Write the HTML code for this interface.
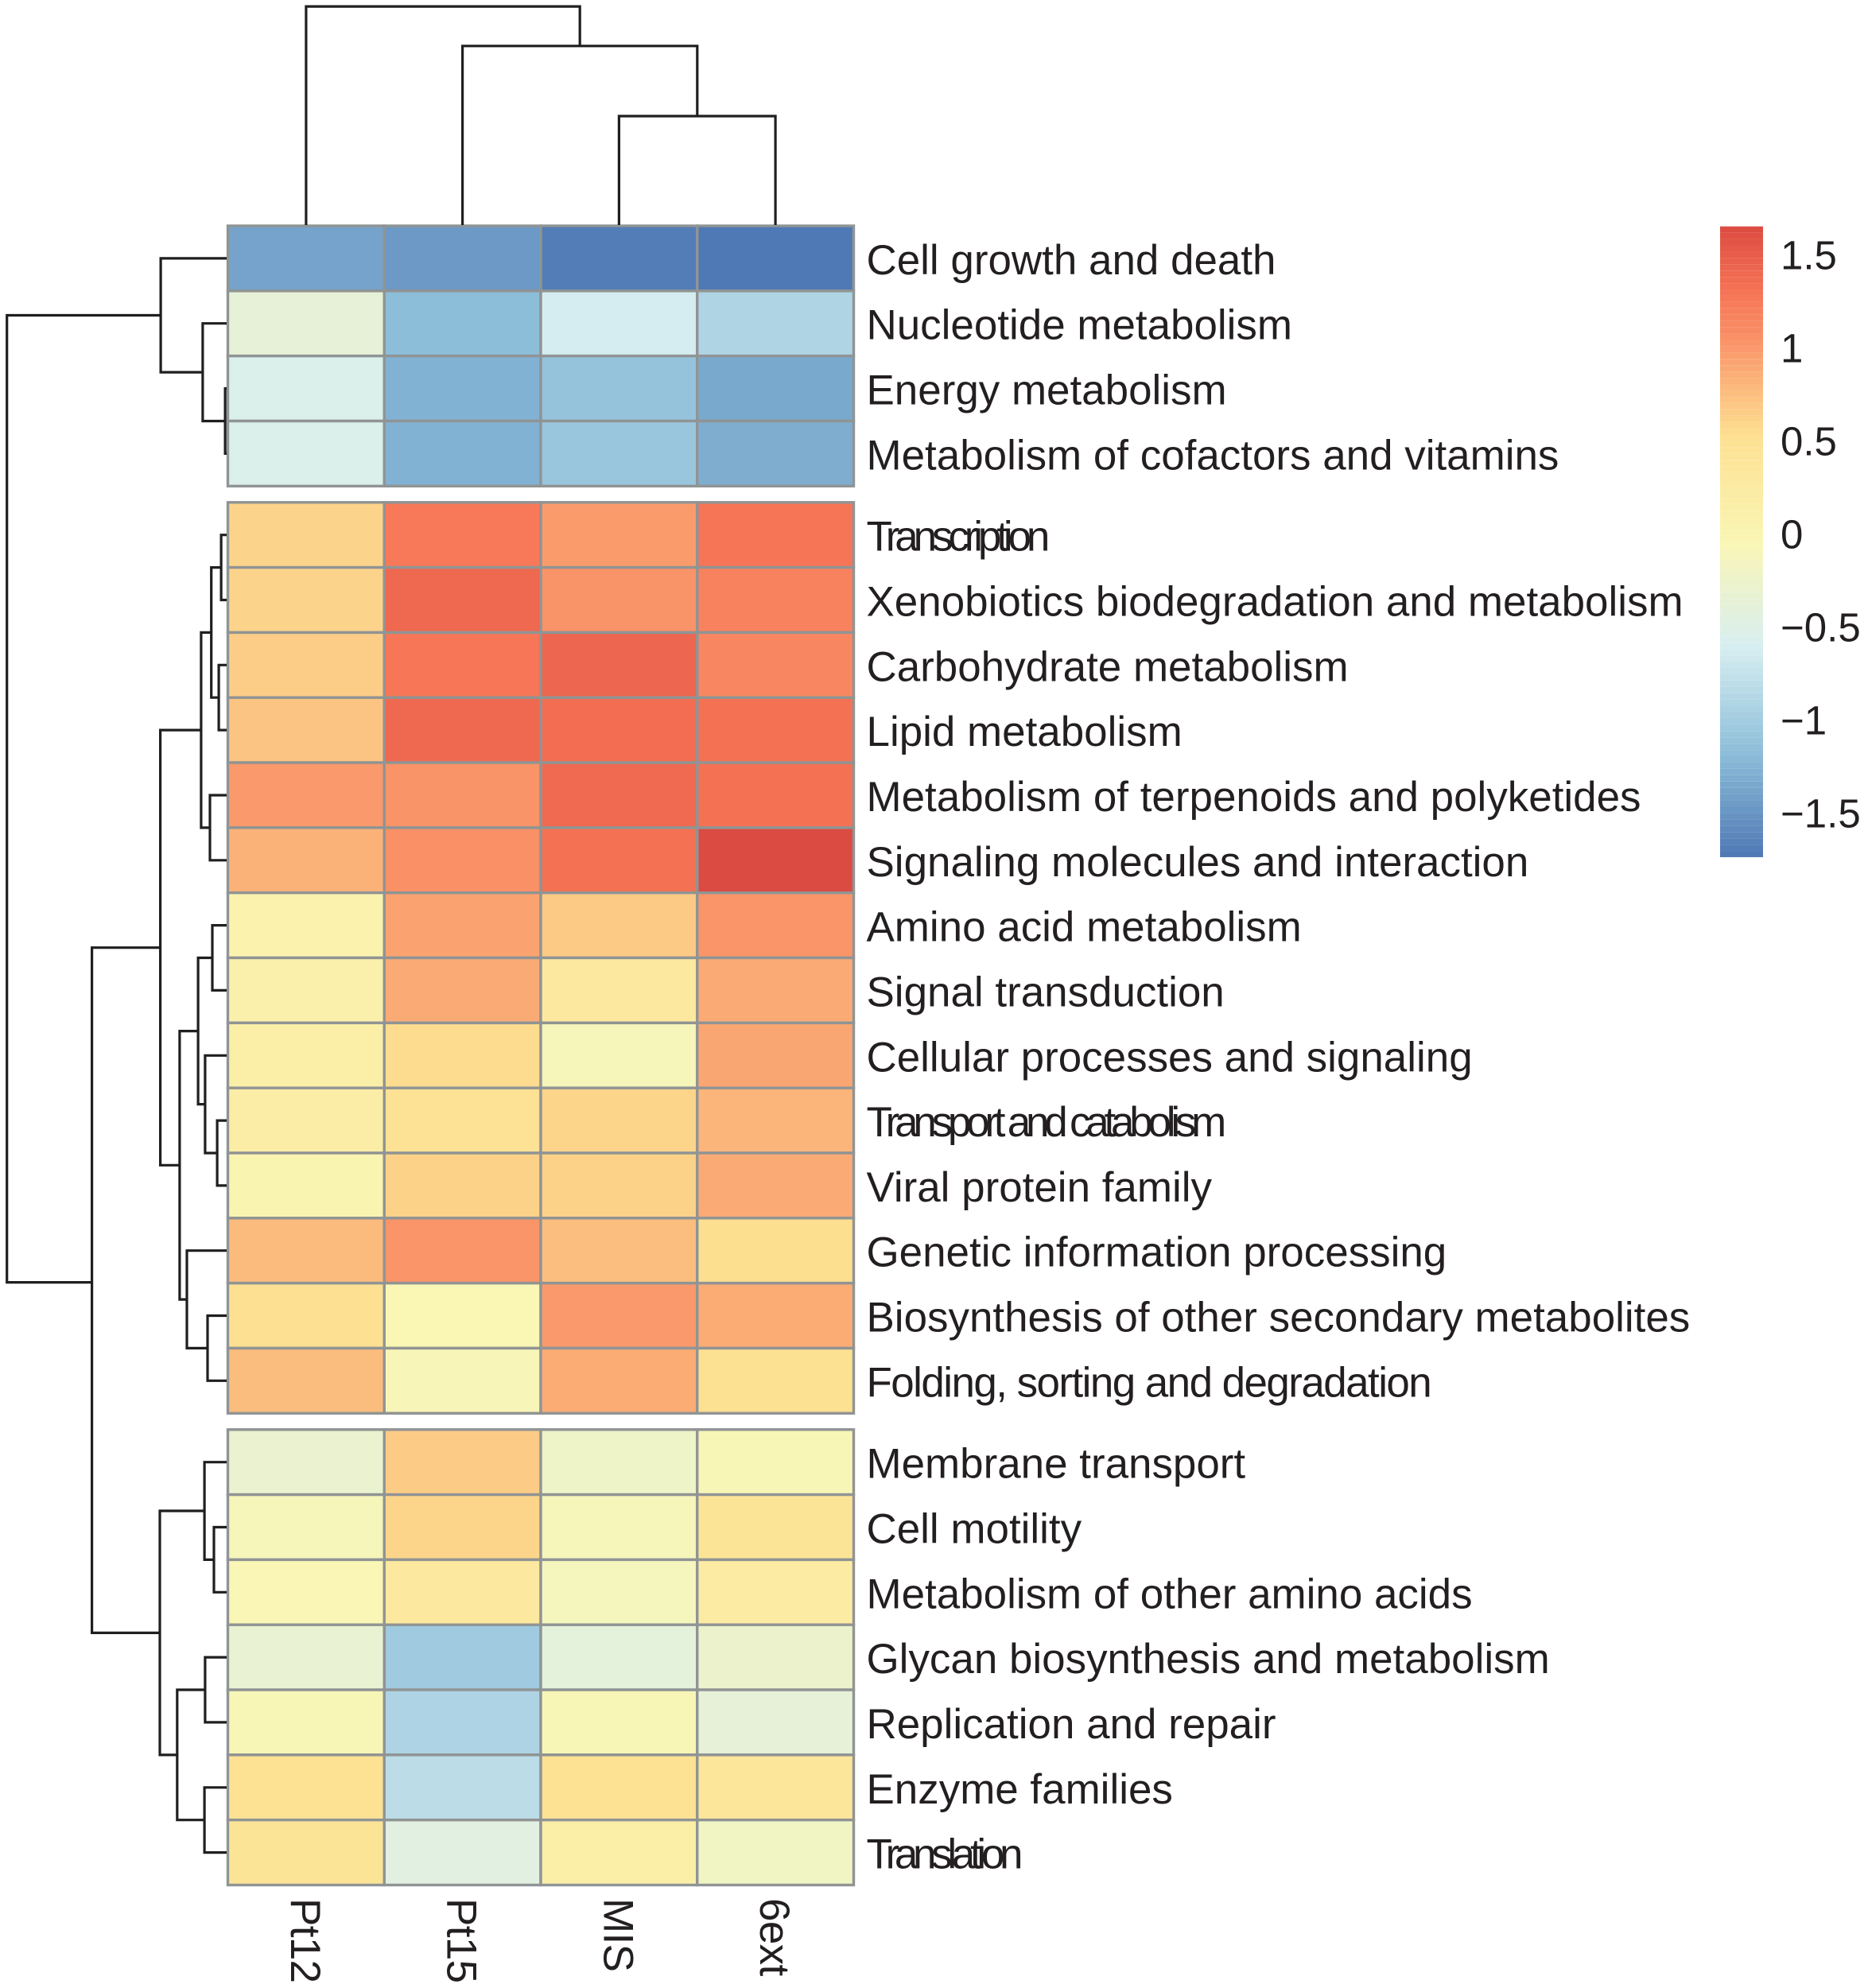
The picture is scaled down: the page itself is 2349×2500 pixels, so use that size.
<!DOCTYPE html>
<html lang="en">
<head>
<meta charset="utf-8">
<title>Clustered heatmap of metabolic pathways</title>
<style>
html,body{margin:0;padding:0;background:#fff;}
svg{display:block;}
text{font-family:"Liberation Sans",Arial,sans-serif;fill:#231f20;}
</style>
</head>
<body>
<svg id="chart" xmlns="http://www.w3.org/2000/svg" width="2349" height="2500" viewBox="0 0 2349 2500">
  <rect x="0" y="0" width="2349" height="2500" fill="#ffffff"/>
</svg>
<script>
const columnLabels = ["Pt12", "Pt15", "MIS", "6ext"];
const rowLabels = [
  "Cell growth and death", "Nucleotide metabolism", "Energy metabolism", "Metabolism of cofactors and vitamins",
  "Transcription", "Xenobiotics biodegradation and metabolism", "Carbohydrate metabolism", "Lipid metabolism",
  "Metabolism of terpenoids and polyketides", "Signaling molecules and interaction", "Amino acid metabolism",
  "Signal transduction", "Cellular processes and signaling", "Transport and catabolism", "Viral protein family",
  "Genetic information processing", "Biosynthesis of other secondary metabolites", "Folding, sorting and degradation",
  "Membrane transport", "Cell motility", "Metabolism of other amino acids", "Glycan biosynthesis and metabolism",
  "Replication and repair", "Enzyme families", "Translation"
];
const rowGroupSizes = [4, 14, 7];
const heatValues = [
  [-1.39, -1.47, -1.70, -1.73],
  [-0.37, -1.17, -0.62, -0.91],
  [-0.55, -1.27, -1.11, -1.34],
  [-0.55, -1.27, -1.08, -1.31],
  [0.61, 1.26, 0.99, 1.29],
  [0.61, 1.40, 1.04, 1.18],
  [0.65, 1.28, 1.42, 1.13],
  [0.71, 1.40, 1.36, 1.33],
  [1.00, 1.04, 1.39, 1.33],
  [0.83, 1.06, 1.33, 1.65],
  [0.06, 0.93, 0.67, 1.03],
  [0.11, 0.88, 0.30, 0.88],
  [0.15, 0.55, -0.10, 0.91],
  [0.18, 0.46, 0.60, 0.82],
  [0.00, 0.62, 0.62, 0.88],
  [0.77, 1.03, 0.75, 0.53],
  [0.52, -0.03, 1.00, 0.87],
  [0.76, -0.08, 0.87, 0.50],
  [-0.30, 0.66, -0.23, -0.07],
  [-0.10, 0.60, -0.10, 0.42],
  [-0.06, 0.32, -0.13, 0.25],
  [-0.32, -1.03, -0.40, -0.26],
  [-0.07, -0.92, -0.07, -0.37],
  [0.47, -0.81, 0.47, 0.38],
  [0.42, -0.45, 0.17, -0.18]
];
const legendTicks = [1.5, 1, 0.5, 0, -0.5, -1, -1.5];
const legendTickLabels = ["1.5", "1", "0.5", "0", "\u22120.5", "\u22121", "\u22121.5"];
const colorStopValues = [-1.737, -1.172, -0.607, -0.042, 0.523, 1.088, 1.3, 1.653];
const colorStopColors = [[78,120,180],[141,190,217],[215,238,241],[250,246,180],[253,224,145],[249,140,100],[246,116,86],[220,75,65]];
/* dendrograms: [height, childA, childB, joinShift]; a bare number is a leaf index */
const rowTree = [10.0,
  [3.0, 0, [1.09, 1, [0.07, 2, 3]]],
  [6.13,
    [3.02,
      [1.16,
        [0.70, [0.25, 4, 5], [0.36, 6, 7]],
        [0.76, 8, 9]],
      [2.14,
        [1.30,
          [0.65, 10, 11],
          [0.98, 12, [0.43, 13, 14]]],
        [1.81, 15, [0.87, 16, 17]]]],
    [3.04,
      [1.01, 18, [0.58, 19, 20]],
      [2.25,
        [0.98, 21, 22],
        [1.01, 23, 24]]],
    -10]
];
const columnTree = [9.95, 0, [8.15, 1, [4.96, 2, 3]]];
/* extra tracking applied to the tightly set labels in the source figure */
const tightLabels = ["Transcription", "Transport and catabolism", "Translation", "Folding, sorting and degradation"];
const tightTracking = [-6.1, -6.2, -6.3, -1.55];

const svg = document.getElementById('chart');
const NS = 'http://www.w3.org/2000/svg';
const gridLeft = 286.5, gridTop = 284, cellW = 196.75, cellH = 81.82, groupGap = 20.5;
const dendroUnit = 27.63;
const fontSize = 52.95;

function groupOfRow(i) {
  let g = 0, acc = 0;
  while (i >= acc + rowGroupSizes[g]) { acc += rowGroupSizes[g]; g++; }
  return g;
}
function rowTopY(i) { return gridTop + i * cellH + groupOfRow(i) * groupGap; }
function rowCenterY(i) { return rowTopY(i) + cellH / 2; }
function colLeftX(j) { return gridLeft + j * cellW; }
function colCenterX(j) { return colLeftX(j) + cellW / 2; }
function colorFor(v) {
  const vs = colorStopValues, cs = colorStopColors;
  if (v <= vs[0]) return 'rgb(' + cs[0].join(',') + ')';
  for (let k = 1; k < vs.length; k++) {
    if (v <= vs[k]) {
      const t = (v - vs[k - 1]) / (vs[k] - vs[k - 1]);
      const c = cs[k - 1].map((a, n) => Math.round(a + (cs[k][n] - a) * t));
      return 'rgb(' + c.join(',') + ')';
    }
  }
  return 'rgb(' + cs[cs.length - 1].join(',') + ')';
}
function make(tag, attrs) {
  const el = document.createElementNS(NS, tag);
  for (const k in attrs) el.setAttribute(k, attrs[k]);
  return el;
}

/* heatmap cells */
const cellsGroup = make('g', {});


svg.appendChild(cellsGroup);
heatValues.forEach((row, i) => {
  row.forEach((v, j) => {
    const cell = make('rect', {
      x: colLeftX(j), y: rowTopY(i), width: cellW, height: cellH,
      fill: colorFor(v), stroke: '#909494', 'stroke-width': 3.4
    });
    
    
    cellsGroup.appendChild(cell);
  });
});

/* row labels */
rowLabels.forEach((label, i) => {
  const t = make('text', { x: 1089.5, y: rowCenterY(i) + 20, 'font-size': fontSize });
  
  
  const tightIndex = tightLabels.indexOf(label);
  if (tightIndex >= 0) t.style.letterSpacing = tightTracking[tightIndex] + 'px';
  t.textContent = label;
  svg.appendChild(t);
});

/* column labels */
columnLabels.forEach((label, j) => {
  const bx = colCenterX(j) - 19, by = 2387;
  const t = make('text', { x: bx, y: by, 'font-size': fontSize, transform: 'rotate(90 ' + bx + ' ' + by + ')' });
  
  
  t.style.letterSpacing = '-0.6px';
  t.textContent = label;
  svg.appendChild(t);
});

/* dendrograms */
function drawNode(node, leafPos, toPoint, name, group) {
  if (typeof node === 'number') return { pos: leafPos(node), h: 0 };
  const a = drawNode(node[1], leafPos, toPoint, name, group);
  const b = drawNode(node[2], leafPos, toPoint, name, group);
  const h = node[0];
  const pts = [toPoint(a.pos, a.h), toPoint(a.pos, h), toPoint(b.pos, h), toPoint(b.pos, b.h)];
  const path = make('path', {
    d: 'M' + pts.map(p => p[0].toFixed(1) + ' ' + p[1].toFixed(1)).join('L'),
    fill: 'none', stroke: '#1f1f1f', 'stroke-width': 3.2, 'stroke-linejoin': 'miter'
  });
  
  
  group.appendChild(path);
  return { pos: (a.pos + b.pos) / 2 + (node[3] || 0), h: h };
}
const rowDendro = make('g', {});


svg.appendChild(rowDendro);
drawNode(rowTree, rowCenterY, (pos, h) => [285 - h * dendroUnit, pos], 'row-dendrogram-branch', rowDendro);
const colDendro = make('g', {});


svg.appendChild(colDendro);
drawNode(columnTree, colCenterX, (pos, h) => [pos, 283 - h * dendroUnit], 'column-dendrogram-branch', colDendro);

/* colour legend */
const legendLeft = 2163, legendWidth = 54, legendZeroY = 671.5, legendUnit = 234, legendMin = -1.737, legendMax = 1.653, legendBands = 100;
function legendY(v) { return legendZeroY - v * legendUnit; }
const legendGroup = make('g', {});


svg.appendChild(legendGroup);
for (let b = 0; b < legendBands; b++) {
  const hi = legendMax - (legendMax - legendMin) * b / legendBands;
  const lo = legendMax - (legendMax - legendMin) * (b + 1) / legendBands;
  const band = make('rect', {
    x: legendLeft, y: legendY(hi), width: legendWidth, height: legendY(lo) - legendY(hi),
    fill: colorFor((hi + lo) / 2)
  });
  
  
  legendGroup.appendChild(band);
}
legendTicks.forEach((v, i) => {
  const t = make('text', { x: 2239, y: legendY(v) + 18, 'font-size': 51 });
  
  
  t.textContent = legendTickLabels[i];
  legendGroup.appendChild(t);
});
</script>
</body>
</html>
